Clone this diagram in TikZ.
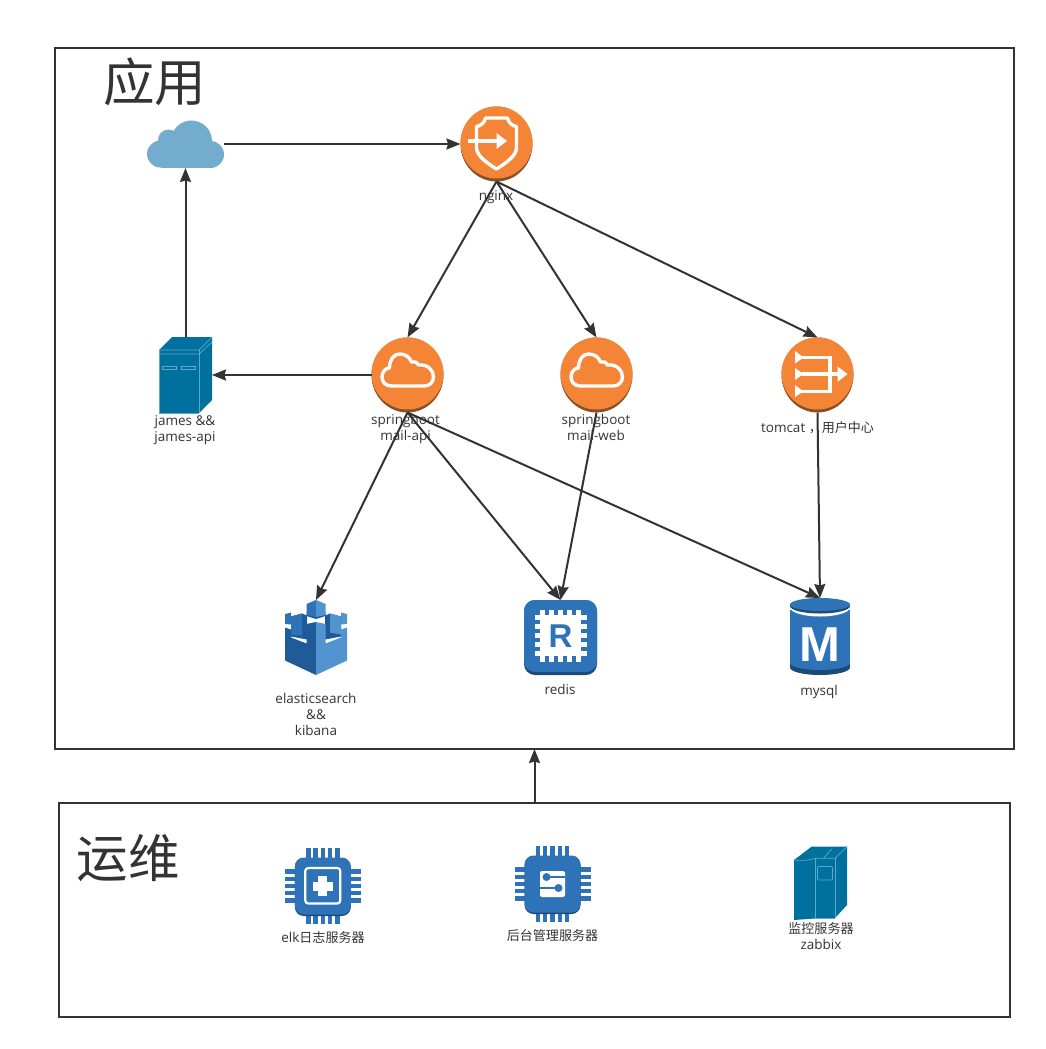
\documentclass[tikz,border=0pt]{standalone}
\usepackage{xcolor}
\usepackage{fontspec}
\setmainfont{Open Sans}
\newfontfamily\cjk[Scale=0.965]{Noto Sans CJK SC}
\newfontfamily\cjktitle{Noto Sans CJK SC}
\newfontfamily\iconfont{Liberation Sans}
\usetikzlibrary{arrows.meta,shapes.geometric}

\definecolor{inkgrey}{HTML}{333333}
\definecolor{awsorange}{HTML}{F58536}
\definecolor{awsbrown}{HTML}{8A4F27}
\definecolor{awsblue}{HTML}{2E73B8}
\definecolor{awsnavy}{HTML}{1A4A75}
\definecolor{awslight}{HTML}{5294CF}
\definecolor{awsdark}{HTML}{205B99}
\definecolor{servteal}{HTML}{00719F}
\definecolor{servline}{HTML}{5FA9C9}
\definecolor{cloudblue}{HTML}{73ACCF}

\tikzset{
    boxframe/.style={draw=inkgrey, line width=1.8pt, inner sep=0pt, outer sep=0pt},
    flow/.style={draw=inkgrey, line width=2pt, -{Stealth[length=14pt,width=11pt,inset=1.5pt]}},
    label/.style={text=inkgrey, align=center, font=\fontsize{13.5}{16}\selectfont, inner sep=0pt},
    bigtitle/.style={text=inkgrey, font=\cjktitle\fontsize{51.5}{50}\selectfont, inner sep=0pt},
    discicon/.style={ellipse, fill=awsbrown, minimum width=72pt, minimum height=75pt, inner sep=0pt, outer sep=0pt},
    plainicon/.style={inner sep=0pt, outer sep=0pt, minimum width=#1},
    glyph/.style={draw=white, line width=3.4pt, line join=round},
}

% orange disc above its brown rim
\newcommand{\discface}{\fill[awsorange] (0,-1.5) circle (36pt);}
\newcommand{\cloudglyph}{
    \draw[glyph] (-16,11) .. controls (-22,11) and (-25.5,7) .. (-25.5,2)
        .. controls (-25.5,-3) and (-22,-7) .. (-18,-7)
        .. controls (-18,-15) and (-14,-21) .. (-8,-21)
        .. controls (-2,-21) and (2,-18) .. (4,-13)
        .. controls (7,-14) and (9,-13) .. (11,-10)
        .. controls (20,-11) and (26,-5) .. (26,2)
        .. controls (26,7) and (22,11) .. (17,11) -- cycle;
}
% chip body with pins, around the origin
\newcommand{\chipbody}{
    \foreach \p in {-14.5,-7.25,0,7.25,14.5} {
        \fill[awsblue] (\p-2.2,-38) rectangle (\p+2.2,38);
        \fill[awsblue] (-38,\p-2.2) rectangle (38,\p+2.2);
    }
    \fill[awsnavy, rounded corners=9pt] (-28,-28) rectangle (28,30);
    \fill[awsblue, rounded corners=9pt] (-28,-28.5) rectangle (28,28.5);
}

\begin{document}
\begin{tikzpicture}[x=1pt,y=-1pt]
    \useasboundingbox (0,0) rectangle (1045,1049);

    % the two frames
    \node[boxframe, minimum width=959pt, minimum height=701pt] (appbox) at (534.5,398.5) {};
    \node[boxframe, minimum width=951pt, minimum height=214pt] (opsbox) at (534.5,910) {};
    \node[bigtitle] (apptitle) at (154.5,82) {应用};
    \node[bigtitle] (opstitle) at (128,858) {运维};

    % internet cloud
    \node[plainicon=76pt, minimum height=48pt] (cloud) at (185.5,144) {};
    \begin{scope}[shift={(cloud.center)}]
        \fill[cloudblue] (6,-3) circle (20.5pt);
        \fill[cloudblue] (-17,-4) circle (10.5pt);
        \fill[cloudblue] (-25,10) circle (13.5pt);
        \fill[cloudblue] (25,10.5) circle (13.5pt);
        \fill[cloudblue] (-25,0) rectangle (25,24);
    \end{scope}

    % nginx
    \node[discicon] (nginx) at (496.5,144) {};
    \begin{scope}[shift={(nginx.center)}]
        \discface
        \draw[glyph] (-11,-26) -- (11,-26) .. controls (12,-21) and (16,-18) .. (20,-17.5) -- (20,4)
            .. controls (20,12) and (8,20) .. (0,25) .. controls (-8,20) and (-20,12) .. (-20,4)
            -- (-20,-17.5) .. controls (-16,-18) and (-12,-21) .. (-11,-26) -- cycle;
        \draw[white, line width=3.4pt] (-29,-3) -- (2,-3);
        \fill[white] (0,-11) -- (10.5,-3) -- (0,5) -- cycle;
    \end{scope}

    % james server
    \node[plainicon=53pt, minimum height=76pt] (james) at (185.5,375) {};
    \begin{scope}[shift={(james.center)}]
        \fill[servteal] (-26.5,-25) -- (-13.5,-38) -- (26.5,-38) -- (26.5,25) -- (13.5,38) -- (-26.5,38) -- cycle;
        \draw[servline, line width=.7pt] (-26.5,-25) -- (13.5,-25) -- (26.5,-38);
        \draw[servline, line width=.7pt] (-26.5,-21) -- (13.5,-21) -- (26.5,-33);
        \draw[servline, line width=.7pt] (13.5,-25) -- (13.5,38);
        \draw[servline, line width=.7pt] (-26.5,-25) -- (-26.5,38) -- (13.5,38);
        \draw[servline, line width=.7pt] (-23,-8.5) rectangle (-9,-5.5);
        \draw[servline, line width=.7pt] (-4,-8.5) rectangle (10,-5.5);
    \end{scope}

    % springboot mail-api
    \node[discicon] (mailapi) at (407.5,375) {};
    \begin{scope}[shift={(mailapi.center)}]
        \discface
        \cloudglyph
    \end{scope}

    % springboot mail-web
    \node[discicon] (mailweb) at (596.5,375) {};
    \begin{scope}[shift={(mailweb.center)}]
        \discface
        \cloudglyph
    \end{scope}

    % tomcat
    \node[discicon] (tomcat) at (817.5,375) {};
    \begin{scope}[shift={(tomcat.center)}]
        \discface
        \draw[white, line width=3.4pt] (-16,-17.5) -- (12.5,-17.5) -- (12.5,16.5) -- (-16,16.5);
        \draw[white, line width=3.4pt] (-16,-1) -- (22,-1);
        \fill[white] (-22.5,-24) -- (-14,-17.5) -- (-22.5,-11.5) -- cycle;
        \fill[white] (-22.5,-7) -- (-14,-1) -- (-22.5,5) -- cycle;
        \fill[white] (-22.5,10) -- (-14,16.5) -- (-22.5,22) -- cycle;
        \fill[white] (20,-8.5) -- (30,-1) -- (20,7) -- cycle;
    \end{scope}

    % elasticsearch castle
    \node[plainicon=62pt, minimum height=75pt] (elastic) at (316,637.5) {};
    \begin{scope}[shift={(elastic.center)}]
        \fill[awsblue] (-31,-23.5) -- (-25,-25) -- (-25,-13) -- (-31,-13.5) -- cycle;
        \fill[awslight] (31,-23.5) -- (25,-25) -- (25,-13) -- (31,-13.5) -- cycle;
        \fill[awsdark] (-25,-21) -- (-14,-24) -- (-9,-22) -- (-9,2) -- (-25,-1) -- cycle;
        \fill[awsblue] (-25,-21) -- (-14,-24) -- (-14,-2) -- (-25,-3) -- cycle;
        \fill[awsdark] (25,-21) -- (14,-24) -- (9,-22) -- (9,2) -- (25,-1) -- cycle;
        \fill[awslight] (25,-21) -- (14,-24) -- (14,-5) -- (25,-3) -- cycle;
        \fill[awsdark] (-31,-10) -- (-25,-8) -- (-25,0) -- (-9.5,6) -- (-9.5,-13.5) -- (0,-15.5) -- (0,37.5) -- (-31,23) -- cycle;
        \fill[awslight] (31,-10) -- (25,-8) -- (25,0) -- (9.5,6) -- (9.5,-13.5) -- (0,-15.5) -- (0,37.5) -- (31,23) -- cycle;
        \fill[awsdark] (-9.5,-25) -- (9.5,-25) -- (9.5,-21.5) -- (0,-18.5) -- (-9.5,-21.5) -- cycle;
        \fill[awsblue] (0,-37.5) -- (-9.5,-33.5) -- (-9.5,-22.5) -- (0,-20.5) -- cycle;
        \fill[awslight] (0,-37.5) -- (9.5,-33.5) -- (9.5,-22.5) -- (0,-20.5) -- cycle;
    \end{scope}

    % redis
    \node[plainicon=73pt, minimum height=75pt] (redis) at (560.5,637.5) {};
    \begin{scope}[shift={(redis.center)}]
        \fill[awsnavy, rounded corners=11pt] (-36.5,-37.5) rectangle (36.5,37.5);
        \fill[awsblue, rounded corners=11pt] (-36.5,-37.5) rectangle (36.5,34.5);
        \foreach \p in {-18,-9,0,9,18} {
            \fill[white] (\p-2.4,-28) rectangle (\p+2.4,24);
            \fill[white] (-26,\p-4.5) rectangle (26,\p+0.3);
        }
        \fill[white] (-19.5,-21) rectangle (19.5,18);
    \end{scope}
    \node[text=awsblue, font=\iconfont\bfseries\fontsize{33}{33}\selectfont, inner sep=0pt] (redisR) at (560.5,636) {R};

    % mysql
    \node[plainicon=60pt, minimum height=77pt] (mysql) at (820,636.5) {};
    \begin{scope}[shift={(mysql.center)}]
        \fill[awsnavy] (0,31) ellipse[x radius=30pt, y radius=7.5pt];
        \fill[awsnavy] (-30,26) rectangle (30,31);
        \fill[awsblue] (0,26.5) ellipse[x radius=30pt, y radius=7pt];
        \fill[awsblue] (-30,-27) rectangle (30,26.5);
        \fill[white] (0,-29) ellipse[x radius=30pt, y radius=9pt];
        \fill[awsnavy] (0,-30.5) ellipse[x radius=30pt, y radius=7.5pt];
        \fill[awsblue] (0,-32) ellipse[x radius=30pt, y radius=6.5pt];
    \end{scope}
    \node[text=white, font=\iconfont\bfseries\fontsize{49}{49}\selectfont, inner sep=0pt] (mysqlM) at (820,644.5) {M};

    % elk server
    \node[plainicon=76pt, minimum height=76pt] (elk) at (322.8,886) {};
    \begin{scope}[shift={(elk.center)}]
        \chipbody
        \draw[white, line width=2.2pt, rounded corners=3pt] (-17.5,-18) rectangle (17.5,17.5);
        \fill[white] (-4.5,-10) rectangle (4.5,10);
        \fill[white] (-10,-4.5) rectangle (10,4.5);
    \end{scope}

    % backend server
    \node[plainicon=76pt, minimum height=76pt] (backend) at (552.5,884) {};
    \begin{scope}[shift={(backend.center)}]
        \chipbody
        \fill[white, rounded corners=2pt] (-12.5,-13) rectangle (12.5,13);
        \draw[awsblue, line width=1.8pt] (-6,-7) -- (12.5,-7);
        \draw[awsblue, line width=1.8pt] (6,4) -- (-12.5,4);
        \fill[awsblue] (-6,-7) circle (4pt);
        \fill[awsblue] (6,4) circle (4pt);
    \end{scope}

    % zabbix server
    \node[plainicon=53pt, minimum height=74pt] (zabbix) at (820.5,883) {};
    \begin{scope}[shift={(zabbix.center)}]
        \fill[servteal] (-26.5,-23) -- (-9,-36.3) -- (26.5,-36.3) -- (26.5,22) -- (14.5,35) -- (-5.5,35.5) -- (-26.5,37) -- cycle;
        \draw[servline, line width=.7pt] (-26.5,-23) .. controls (-18,-22) and (-10,-23) .. (-5.5,-24.7) -- (14.5,-24.7) -- (26.5,-36.3);
        \draw[servline, line width=.7pt] (-5.5,-24.7) -- (-5.5,35);
        \draw[servline, line width=.7pt] (14.5,-24.7) -- (14.5,35);
        \draw[servline, line width=.7pt] (-5.5,35) -- (14.5,35);
        \draw[servline, line width=.7pt] (3,-24.7) -- (11,-34);
        \draw[servline, line width=.7pt, rounded corners=1pt] (-3,-16.5) rectangle (12,-3);
    \end{scope}

    % connectors
    \draw[flow] (cloud.east) -- (nginx.west);
    \draw[flow] (james.north) -- (cloud.south);
    \draw[flow] (mailapi.west) -- (james.east);
    \draw[flow] (nginx.south) -- (mailapi.north);
    \draw[flow] (nginx.south) -- (mailweb.north);
    \draw[flow] (nginx.south) -- (tomcat.north);
    \draw[flow] (mailapi.south) -- (elastic.north);
    \draw[flow] (mailapi.south) -- (redis.north);
    \draw[flow] (mailapi.south) -- (mysql.north);
    \draw[flow] (mailweb.south) -- (redis.north);
    \draw[flow] (tomcat.south) -- (mysql.north);
    \draw[flow] (opsbox.north) -- (appbox.south);

    % labels
    \node[label] (nginxlabel) at (496,197) {nginx};
    \node[label] (jameslabel) at (185,430) {james \&\&\\james-api};
    \node[label] (mailapilabel) at (405.5,429) {springboot\\mail-api};
    \node[label] (mailweblabel) at (596,427.5) {springboot\\mail-web};
    \node[label] (tomcatlabel) at (817.5,427.5) {tomcat {\cjk ，用户中心}};
    \node[label] (elasticlabel) at (316,714) {elasticsearch\\\&\&\\kibana};
    \node[label] (redislabel) at (560,689.5) {redis};
    \node[label] (mysqllabel) at (819,691.5) {mysql};
    \node[label] (elklabel) at (323,938) {elk{\cjk 日志服务器}};
    \node[label] (backendlabel) at (552.5,936) {{\cjk 后台管理服务器}};
    \node[label] (zabbixlabel) at (821,936) {{\cjk 监控服务器}\\zabbix};
\end{tikzpicture}
\end{document}
